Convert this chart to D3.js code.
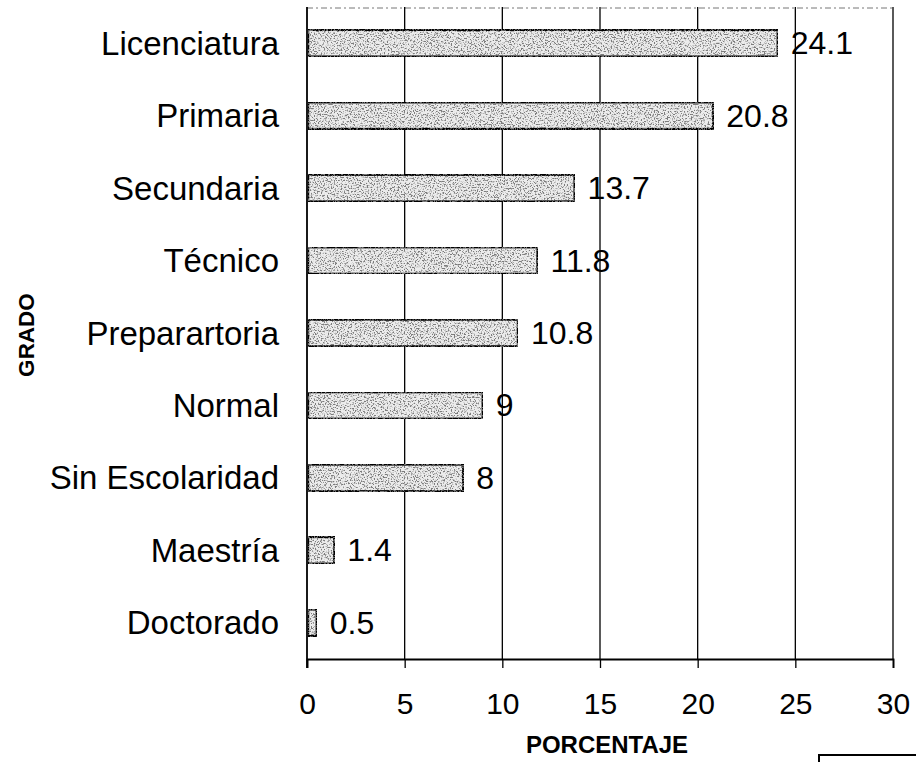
<!DOCTYPE html>
<html>
<head>
<meta charset="utf-8">
<script src="https://cdn.jsdelivr.net/npm/d3@7"></script>
<style>
  html, body { margin: 0; padding: 0; background: #fff; }
  svg { display: block; }
  text { font-family: "Liberation Sans", Arial, sans-serif; fill: #000; }
</style>
</head>
<body>
<svg id="chart" width="916" height="762"></svg>
<script>
const categories = ["Licenciatura", "Primaria", "Secundaria", "Técnico", "Preparartoria", "Normal", "Sin Escolaridad", "Maestría", "Doctorado"];
const values = [24.1, 20.8, 13.7, 11.8, 10.8, 9, 8, 1.4, 0.5];
const valueLabels = ["24.1", "20.8", "13.7", "11.8", "10.8", "9", "8", "1.4", "0.5"];
const xTicks = [0, 5, 10, 15, 20, 25, 30];
const xTitle = "PORCENTAJE";
const yTitle = "GRADO";

(function () {
const svg = d3.select("#chart");
const pLeft = 307, pRight = 893, pTop = 7, pBottom = 659;

const x = d3.scaleLinear().domain([0, 30]).range([pLeft, pRight]);
const y = d3.scaleBand().domain(categories).range([pTop, pBottom]).paddingInner(0.63).paddingOuter(0.315);

// stipple filter
const defs = svg.append("defs");
const f = defs.append("filter").attr("id", "stip").attr("x", 0).attr("y", 0).attr("width", 1).attr("height", 1);
f.append("feTurbulence").attr("type", "fractalNoise").attr("baseFrequency", 0.7).attr("numOctaves", 2).attr("seed", 7).attr("result", "n");
f.append("feColorMatrix").attr("in", "n").attr("type", "matrix")
  .attr("values", "0 0 0 0 0.2  0 0 0 0 0.2  0 0 0 0 0.2  -6 0 0 0 3.05").attr("result", "dots");
f.append("feComposite").attr("in", "dots").attr("in2", "SourceGraphic").attr("operator", "in").attr("result", "d2");
const m = f.append("feMerge");
m.append("feMergeNode").attr("in", "SourceGraphic");
m.append("feMergeNode").attr("in", "d2");

// top dashed border
svg.append("line").attr("x1", pLeft).attr("x2", pRight).attr("y1", pTop + 1).attr("y2", pTop + 1)
  .attr("stroke", "#777").attr("stroke-width", 1).attr("stroke-dasharray", "6,3,2,3");

// gridlines and right border
svg.append("g").selectAll("line").data(xTicks.filter(d => d > 0)).join("line")
  .attr("x1", d => x(d)).attr("x2", d => x(d))
  .attr("y1", pTop).attr("y2", pBottom)
  .attr("stroke", "#000").attr("stroke-width", 1.3);

// bottom axis
const xAxis = d3.axisBottom(x).tickValues(xTicks).tickSize(9).tickPadding(25).tickFormat(d3.format("d"));
const gx = svg.append("g").attr("transform", `translate(0,${pBottom})`).call(xAxis);
gx.select(".domain").attr("stroke", "#000").attr("stroke-width", 1.8);
gx.selectAll(".tick line").attr("stroke", "#000").attr("stroke-width", 1.3);
gx.selectAll(".tick text").attr("font-size", 30).attr("font-family", "Liberation Sans, Arial, sans-serif").attr("fill", "#000")
  .attr("dy", "0.71em");

// left axis line
svg.append("line").attr("x1", pLeft).attr("x2", pLeft).attr("y1", pTop).attr("y2", pBottom + 9)
  .attr("stroke", "#000").attr("stroke-width", 1.8);

// bars
svg.append("g").selectAll("rect").data(values).join("rect")
  .attr("x", x(0) + 1)
  .attr("y", (d, i) => y(categories[i]))
  .attr("width", d => x(d) - x(0) - 1)
  .attr("height", y.bandwidth())
  .attr("fill", "#ececec")
  .attr("stroke", "#000").attr("stroke-width", 2.4)
  .attr("filter", "url(#stip)");

// category labels
svg.append("g").selectAll("text").data(categories).join("text")
  .attr("x", pLeft - 28)
  .attr("y", d => y(d) + y.bandwidth() / 2)
  .attr("text-anchor", "end").attr("dominant-baseline", "central")
  .attr("font-size", 33)
  .text(d => d);

// value labels
svg.append("g").selectAll("text").data(values).join("text")
  .attr("x", d => x(d) + 13)
  .attr("y", (d, i) => y(categories[i]) + y.bandwidth() / 2)
  .attr("dominant-baseline", "central")
  .attr("font-size", 32)
  .text((d, i) => valueLabels[i]);

// axis titles
svg.append("text").attr("x", 607).attr("y", 744)
  .attr("text-anchor", "middle").attr("dominant-baseline", "central")
  .attr("font-size", 24).attr("font-weight", "bold").text(xTitle);

svg.append("text").attr("transform", "translate(26,335) rotate(-90)")
  .attr("text-anchor", "middle").attr("dominant-baseline", "central")
  .attr("font-size", 22.5).attr("font-weight", "bold").text(yTitle);

// partial box at bottom-right corner
svg.append("rect").attr("x", 819).attr("y", 755).attr("width", 110).attr("height", 30)
  .attr("fill", "none").attr("stroke", "#000").attr("stroke-width", 2);
})();
</script>
</body>
</html>
